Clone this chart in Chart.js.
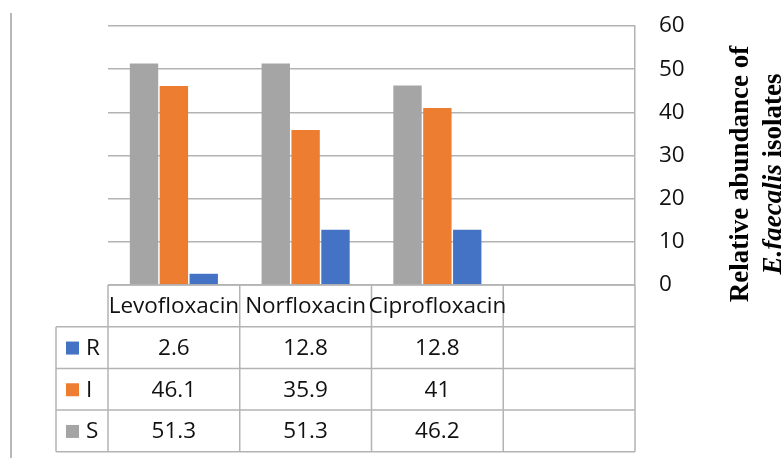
<!DOCTYPE html>
<html>
<head>
<meta charset="utf-8">
<script src="https://cdn.jsdelivr.net/npm/chart.js@4.4.1/dist/chart.umd.min.js"></script>
<style>
  html, body { margin: 0; padding: 0; background: #fff; }
  #wrap { width: 781px; height: 458px; position: relative; overflow: hidden; }
</style>
</head>
<body>
<div id="wrap"><canvas id="chart" width="781" height="458"></canvas></div>
<script>
// data
const categories = ['Levofloxacin', 'Norfloxacin', 'Ciprofloxacin', ''];
const seriesNames = ['S', 'I', 'R'];
const valuesS = [51.3, 51.3, 46.2, null];
const valuesI = [46.1, 35.9, 41, null];
const valuesR = [2.6, 12.8, 12.8, null];
const yMin = 0, yMax = 60, yStep = 10;

const colors = { S: '#a5a5a5', I: '#ed7d31', R: '#4472c4' };
const lineColor = '#b3b3b3';
const textFont = 'Open Sans';
const textColor = '#111';

// table under the plot, columns follow the x scale
const tablePlugin = {
  id: 'dataTable',
  afterDraw(chart) {
    const ctx = chart.ctx;
    const x = chart.scales.x;
    const area = chart.chartArea;
    const colW = (x.right - x.left) / categories.length;
    const rowH = 41.7;
    const top = area.bottom;
    const labelLeft = 56;
    // rows top to bottom: R, I, S (reverse of dataset order)
    const rows = chart.data.datasets.slice().reverse();

    ctx.save();
    ctx.strokeStyle = lineColor;
    ctx.lineWidth = 1.5;
    ctx.beginPath();
    ctx.moveTo(x.left, top); ctx.lineTo(x.right, top);
    ctx.stroke();
    for (let r = 0; r <= rows.length; r++) {
      const yy = top + rowH * (r + 1);
      ctx.beginPath();
      ctx.moveTo(labelLeft, yy); ctx.lineTo(x.right, yy);
      ctx.stroke();
    }
    const bottom = top + rowH * (rows.length + 1);
    for (let c = 0; c <= categories.length; c++) {
      const xx = x.left + colW * c;
      ctx.beginPath();
      ctx.moveTo(xx, top); ctx.lineTo(xx, bottom);
      ctx.stroke();
    }
    ctx.beginPath();
    ctx.moveTo(labelLeft, top + rowH); ctx.lineTo(labelLeft, bottom);
    ctx.stroke();

    ctx.fillStyle = textColor;
    ctx.font = '22.5px "' + textFont + '"';
    ctx.textBaseline = 'middle';
    ctx.textAlign = 'center';
    categories.forEach((c, i) => {
      ctx.fillText(c, x.getPixelForValue(i), top + rowH / 2 + 1);
    });
    rows.forEach((ds, r) => {
      const cy = top + rowH * (r + 1.5) + 1;
      ds.data.forEach((v, i) => {
        if (v === null) return;
        ctx.textAlign = 'center';
        ctx.fillText(String(v), x.getPixelForValue(i), cy);
      });
      ctx.fillStyle = ds.backgroundColor;
      ctx.fillRect(66, cy - 7, 13, 13);
      ctx.fillStyle = textColor;
      ctx.textAlign = 'left';
      ctx.fillText(ds.label, 86, cy);
    });
    ctx.restore();

    // outer frame line on the left
    ctx.save();
    ctx.strokeStyle = '#a0a0a0';
    ctx.lineWidth = 1.5;
    ctx.beginPath();
    ctx.moveTo(11, 13); ctx.lineTo(11, 458);
    ctx.stroke();
    ctx.restore();
  }
};

// rotated axis title with an italic species name
const axisTitlePlugin = {
  id: 'axisTitle',
  afterDraw(chart) {
    const ctx = chart.ctx;
    const size = 27;
    const bold = 'bold ' + size + 'px "Liberation Serif"';
    const boldItalic = 'italic bold ' + size + 'px "Liberation Serif"';
    const lines = [
      [{ t: 'Relative abundance of', f: bold }],
      [{ t: 'E.faecalis', f: boldItalic }, { t: ' isolates', f: bold }]
    ];
    const baselines = [748, 781];
    const cy = 174;
    ctx.save();
    ctx.fillStyle = '#000';
    ctx.textBaseline = 'alphabetic';
    ctx.textAlign = 'left';
    lines.forEach((parts, li) => {
      let total = 0;
      parts.forEach(p => { ctx.font = p.f; p.w = ctx.measureText(p.t).width; total += p.w; });
      ctx.save();
      ctx.translate(baselines[li], cy);
      ctx.rotate(-Math.PI / 2);
      let px = -total / 2;
      parts.forEach(p => { ctx.font = p.f; ctx.fillText(p.t, px, 0); px += p.w; });
      ctx.restore();
    });
    ctx.restore();
  }
};

new Chart(document.getElementById('chart'), {
  type: 'bar',
  data: {
    labels: categories,
    datasets: [
      { label: seriesNames[0], data: valuesS, backgroundColor: colors.S },
      { label: seriesNames[1], data: valuesI, backgroundColor: colors.I },
      { label: seriesNames[2], data: valuesR, backgroundColor: colors.R }
    ]
  },
  options: {
    responsive: false,
    animation: false,
    devicePixelRatio: 1,
    categoryPercentage: 0.68,
    barPercentage: 0.95,
    layout: { autoPadding: false, padding: { left: 108, top: 26, right: 0, bottom: 173 } },
    plugins: { legend: { display: false }, tooltip: { enabled: false } },
    scales: {
      x: {
        ticks: { display: false },
        grid: { display: false },
        border: { display: false },
        afterFit(s) { s.height = 0; }
      },
      y: {
        position: 'right',
        min: yMin,
        max: yMax,
        ticks: {
          stepSize: yStep,
          padding: 24,
          color: textColor,
          font: { family: textFont, size: 22.5 }
        },
        grid: { color: lineColor, lineWidth: 1.5, drawTicks: false },
        border: { display: true, color: lineColor, width: 1.5 },
        afterFit(s) { s.width = 146; s.paddingTop = 0; s.paddingBottom = 0; }
      }
    }
  },
  plugins: [tablePlugin, axisTitlePlugin]
});
</script>
</body>
</html>
